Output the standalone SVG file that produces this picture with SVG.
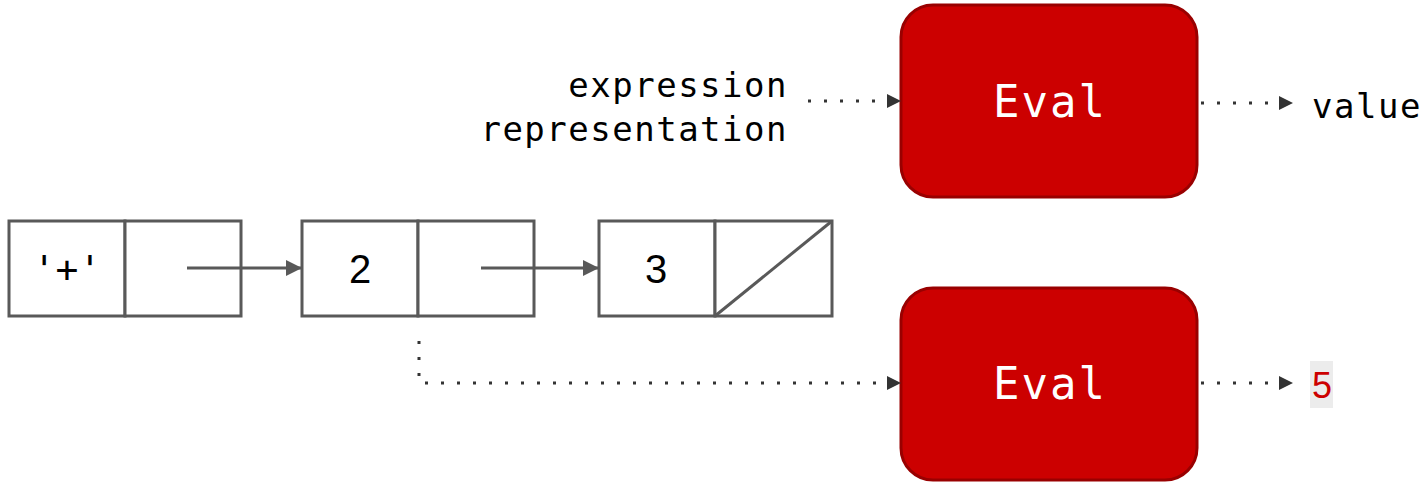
<svg xmlns="http://www.w3.org/2000/svg" width="1425" height="482" viewBox="0 0 1425 482">
<style>
.eval{fill:#cc0000;stroke:#990000;stroke-width:3}
.evt{font-family:"DejaVu Sans Mono","Liberation Mono",monospace;font-size:44px;letter-spacing:2px;fill:#fff;text-anchor:middle}
.cell{fill:#fff;stroke:#595959;stroke-width:3}
.num{font-family:"Liberation Sans",Arial,sans-serif;font-size:40px;fill:#000;text-anchor:middle}
.mono{font-family:"DejaVu Sans Mono","Liberation Mono",monospace;font-size:34px;letter-spacing:1.5px;fill:#000}
.dot{fill:none;stroke:#333;stroke-width:3;stroke-dasharray:3 13}
.solid{fill:none;stroke:#595959;stroke-width:3}
</style>
<defs>
<marker id="ah" markerWidth="14" markerHeight="14" refX="13" refY="7" orient="auto" markerUnits="userSpaceOnUse">
<path d="M0,0 L14,7 L0,14 Z" fill="#333"/>
</marker>
<marker id="ah2" markerWidth="16" markerHeight="16" refX="15" refY="8" orient="auto" markerUnits="userSpaceOnUse">
<path d="M0,0 L16,8 L0,16 Z" fill="#595959"/>
</marker>
</defs>
<g id="eval1"><rect class="eval" x="901" y="5" width="296" height="192" rx="32"/><text class="evt" x="1050" y="117">Eval</text></g>
<g id="eval2"><rect class="eval" x="901" y="288" width="296" height="192" rx="32"/><text class="evt" x="1050" y="399">Eval</text></g>
<g id="input-label"><text class="mono" text-anchor="end" x="788" y="97">expression</text><text class="mono" text-anchor="end" x="788" y="141">representation</text></g>
<g id="value-label"><text class="mono" x="1312" y="118">value</text></g>
<g id="result-label"><rect x="1310" y="361" width="23" height="47" fill="#ececec"/><text x="1322" y="398" font-family="'Liberation Sans',Arial,sans-serif" font-size="36" fill="#cc0000" text-anchor="middle">5</text></g>
<g id="pair1"><rect class="cell" x="9" y="221" width="116" height="95"/><rect class="cell" x="125" y="221" width="116" height="95"/><text x="67" y="282" font-family="'DejaVu Sans Mono','Liberation Mono',monospace" font-size="38" text-anchor="middle" fill="#000">'+'</text></g>
<g id="pair2"><rect class="cell" x="302" y="221" width="116" height="95"/><rect class="cell" x="418" y="221" width="116" height="95"/><text class="num" x="360" y="283">2</text></g>
<g id="pair3"><rect class="cell" x="599" y="221" width="116" height="95"/><rect class="cell" x="715" y="221" width="117" height="95"/><line class="solid" x1="715" y1="316" x2="832" y2="221"/><text class="num" x="656" y="283">3</text></g>
<g id="connectors">
<line class="solid" x1="187" y1="268" x2="301" y2="268" marker-end="url(#ah2)"/>
<line class="solid" x1="481" y1="268" x2="598" y2="268" marker-end="url(#ah2)"/>
<line class="dot" x1="808" y1="101" x2="900" y2="101" marker-end="url(#ah)"/>
<line class="dot" x1="1201" y1="103" x2="1292" y2="103" marker-end="url(#ah)"/>
<line class="dot" x1="1201" y1="383" x2="1292" y2="383" marker-end="url(#ah)"/>
<path class="dot" d="M419,341 L419,383 L900,383" marker-end="url(#ah)"/>
</g>
</svg>
